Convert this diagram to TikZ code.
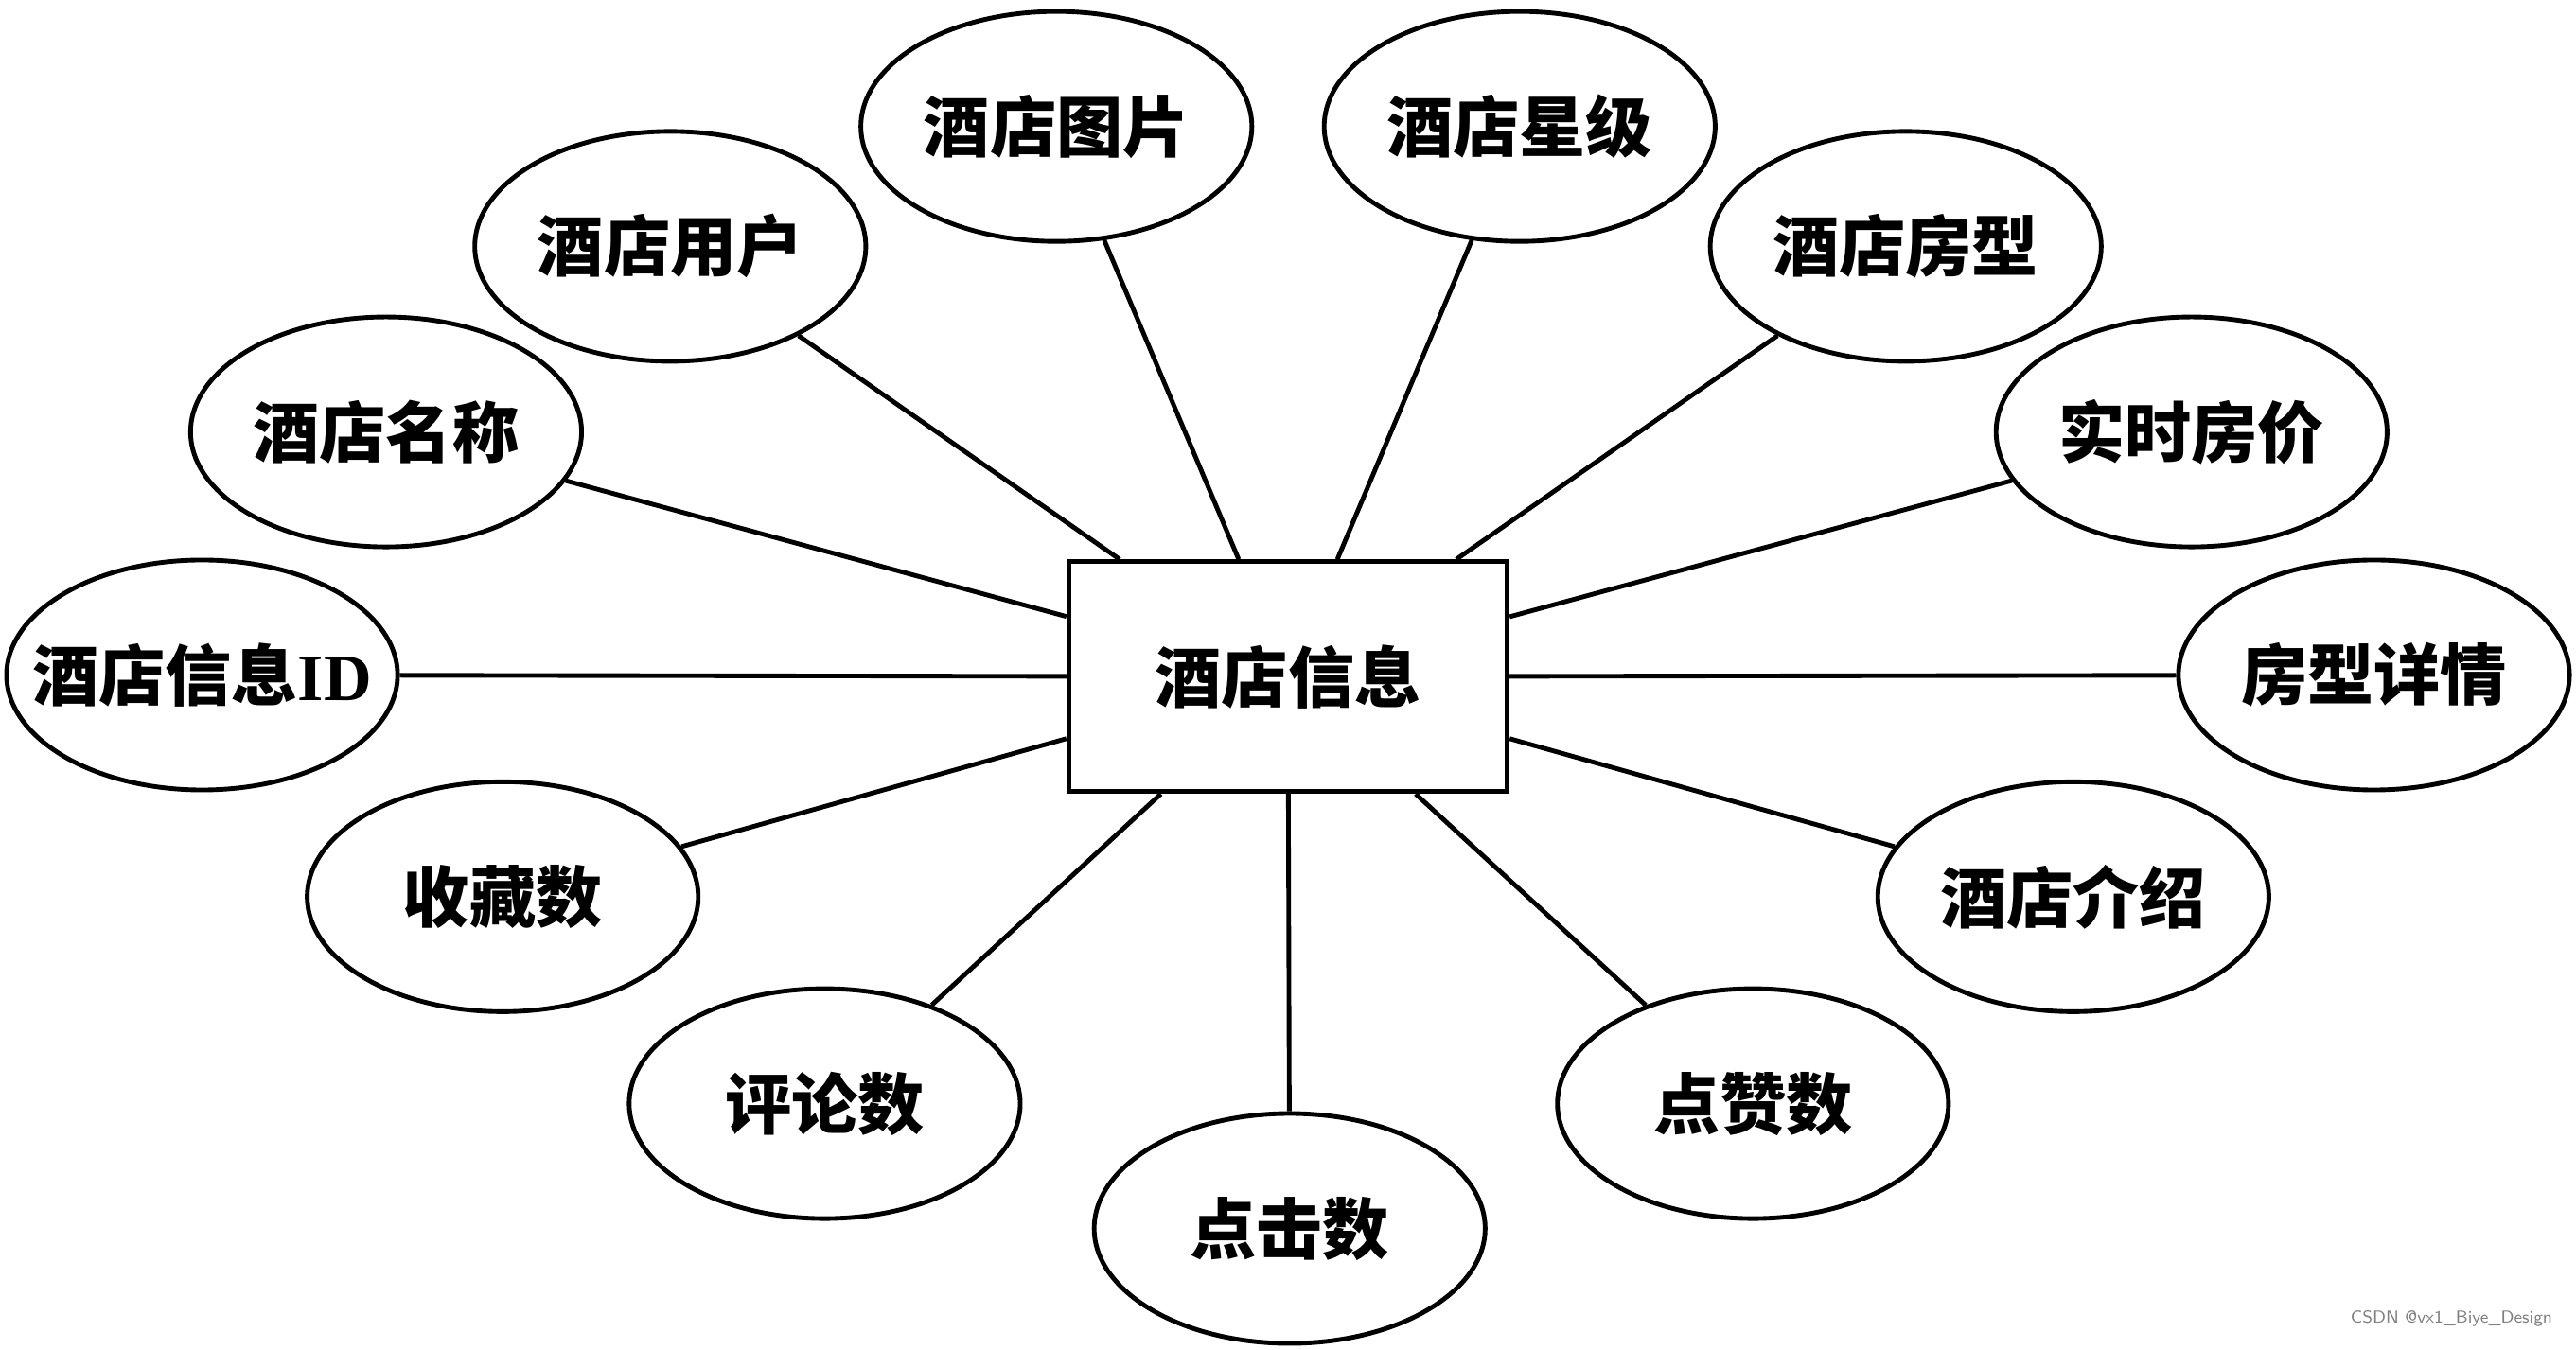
\documentclass[tikz,border=0pt]{standalone}
\usepackage{fontspec}
\setmainfont{Liberation Serif}
\newfontfamily\cjk{Noto Sans CJK SC}
\usetikzlibrary{shapes.geometric, positioning}
\tikzset{
  attr/.style={ellipse, draw, thick, minimum width=2.38cm, minimum height=1.4cm, inner sep=0pt, font=\cjk\bfseries\fontsize{11.5}{13}\selectfont},
  entity/.style={rectangle, draw, thick, minimum width=2.67cm, minimum height=1.4cm, font=\cjk\bfseries\fontsize{11.5}{13}\selectfont},
  link/.style={thick}
}
\begin{document}
\begin{tikzpicture}
  \useasboundingbox (0,0) rectangle (15.68,8.22);
  % central entity
  \node[entity] (hotel) at (7.84,4.10) {酒店信息};
  % attributes
  \node[attr] (pic) at (6.43,7.45) {酒店图片};
  \node[attr] (star) at (9.25,7.45) {酒店星级};
  \node[attr] (user) at (4.08,6.72) {酒店用户};
  \node[attr] (room) at (11.60,6.72) {酒店房型};
  \node[attr] (name) at (2.35,5.59) {酒店名称};
  \node[attr] (price) at (13.34,5.59) {实时房价};
  \node[attr, inner sep=-10pt] (hid) at (1.23,4.11) {酒店信息{\rmfamily\bfseries ID}};
  \node[attr] (detail) at (14.45,4.11) {房型详情};
  \node[attr] (fav) at (3.06,2.76) {收藏数};
  \node[attr] (intro) at (12.62,2.76) {酒店介绍};
  \node[attr] (cmt) at (5.02,1.50) {评论数};
  \node[attr] (like) at (10.67,1.50) {点赞数};
  \node[attr] (click) at (7.85,0.74) {点击数};
  % connectors
  \foreach \a in {pic, star, user, room, name, price, hid, detail, fav, intro, cmt, like, click}
    \draw[link] (hotel) -- (\a);
  \node[anchor=south east, font=\fontsize{3}{3}\selectfont\sffamily, text=gray] (mark) at (15.66,0.02) {CSDN @vx1\_Biye\_Design};
\end{tikzpicture}
\end{document}
